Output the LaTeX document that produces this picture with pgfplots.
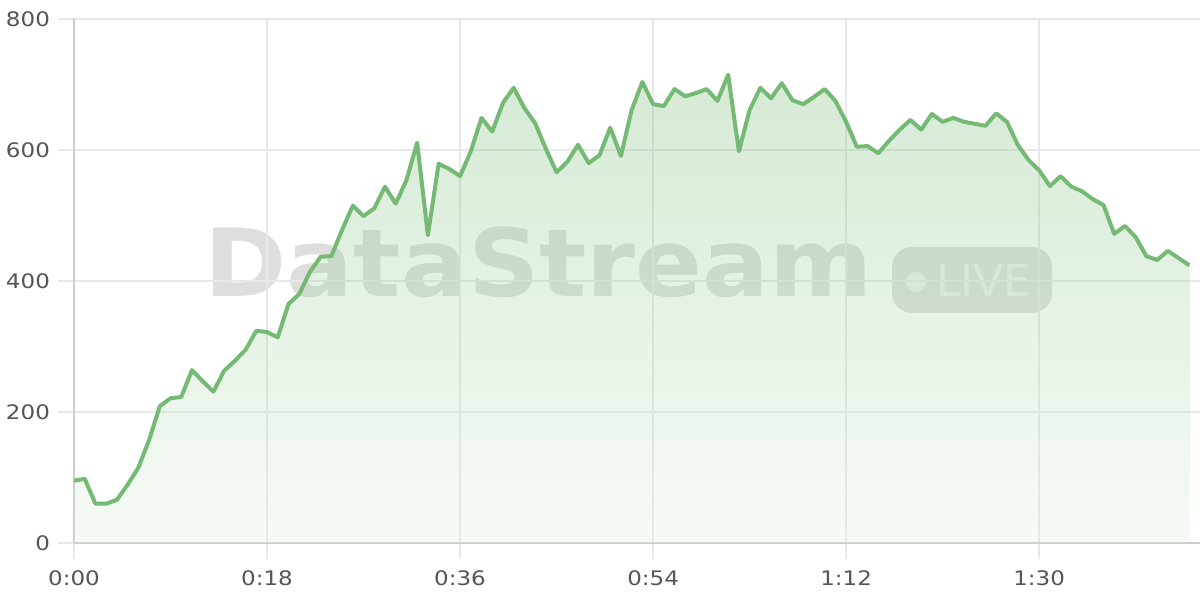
\documentclass[border=0pt]{standalone}
\usepackage{pgfplots}
\usepackage{pgfplotstable}
\pgfplotsset{compat=1.18}
\usepackage{fontspec}
\setmainfont{DejaVu Sans}
\definecolor{linegreen}{RGB}{116,185,116}
\definecolor{fillbot}{RGB}{225,242,222}
\definecolor{gridgray}{RGB}{232,232,232}
\definecolor{axisgray}{RGB}{204,204,204}
\definecolor{labelgray}{RGB}{85,85,85}
\pgfplotstableread{
t v
0 95
1 98
2 60
3 60
4 66
5 89
6 115
7 157
8 209
9 221
10 223
11 264
12 247
13 231
14 263
15 278
16 295
17 324
18 322
19 314
20 365
21 380
22 414
23 437
24 438
25 478
26 515
27 499
28 511
29 544
30 518
31 554
32 611
33 470
34 579
35 571
36 560
37 598
38 649
39 628
40 672
41 695
42 664
43 641
44 602
45 566
46 582
47 608
48 580
49 592
50 634
51 591
52 661
53 704
54 670
55 667
56 693
57 682
58 687
59 693
60 675
61 715
62 598
63 661
64 695
65 679
66 702
67 676
68 670
69 681
70 693
71 675
72 643
73 605
74 606
75 595
76 614
77 631
78 646
79 631
80 655
81 643
82 649
83 643
84 640
85 637
86 656
87 643
88 608
89 585
90 569
91 545
92 560
93 544
94 537
95 525
96 516
97 472
98 484
99 467
100 438
101 432
102 446
103 435
104 424
}\datatable
\begin{document}
\begin{tikzpicture}
\useasboundingbox (-37bp,-28.5bp) rectangle (563bp,271.5bp);
% watermark
\node[anchor=base west, inner sep=0pt, text=black, text opacity=0.13, xscale=1.055,
      font=\fontsize{47bp}{47bp}\selectfont\bfseries] at (65bp,123bp) {DataStream};
\fill[black, opacity=0.13, rounded corners=10bp] (409bp,115bp) rectangle (489bp,148bp);
\fill[white, opacity=0.55] (421bp,130.5bp) circle (5bp);
\node[anchor=base west, inner sep=0pt, text=white, text opacity=0.55,
      font=\fontsize{22bp}{22bp}\selectfont] at (431bp,123bp) {LIVE};
\begin{axis}[
  at={(0,0)}, anchor=south west,
  scale only axis, width=563bp, height=262bp,
  xmin=0, xmax=105, ymin=0, ymax=800,
  axis lines=left,
  axis line style={-, draw=axisgray, line width=0.75bp},
  grid=major,
  major grid style={draw=gridgray, line width=0.75bp},
  tick align=outside, major tick length=8bp,
  tick style={draw=gridgray, line width=0.75bp},
  xtick={0,18,36,54,72,90},
  xticklabels={0:00,0:18,0:36,0:54,1:12,1:30},
  ytick={0,200,400,600,800},
  tick label style={font=\fontsize{10bp}{12bp}\selectfont, text=labelgray, xscale=1.15},
  /pgf/number format/assume math mode=true,
  yticklabel style={anchor=east},
  xticklabel style={yshift=-2.5bp},
]
\addplot[draw=none, top color=linegreen, bottom color=fillbot, fill opacity=0.3] table[x=t,y=v] {\datatable} \closedcycle;
\addplot[linegreen, line width=2bp, line join=round] table[x=t,y=v] {\datatable};
\end{axis}
\end{tikzpicture}
\end{document}
